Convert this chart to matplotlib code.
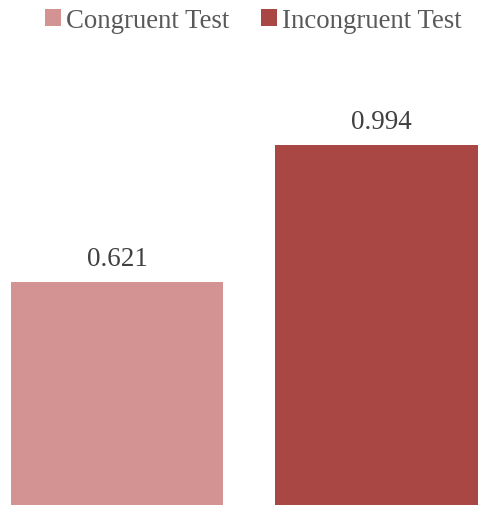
import matplotlib
matplotlib.use("Agg")
import matplotlib.pyplot as plt
from matplotlib.patches import Patch

categories = ["Congruent Test", "Incongruent Test"]
values = [0.621, 0.994]
labels = ["0.621", "0.994"]
colors = ["#D39392", "#A94745"]

plt.rcParams['font.family'] = ['Liberation Serif', 'DejaVu Serif']

fig = plt.figure(figsize=(4.78, 5.06), dpi=100)
ax = fig.add_axes([0, 0, 1, 1])
x = [0, 1]
ax.bar(x, values, width=0.803, color=colors)
for xi, v, lab in zip(x, values, labels):
    ax.annotate(lab, (xi, v), xytext=(0, 8), textcoords='offset points',
                ha='center', va='bottom', fontsize=19.5, color='#404040')
ax.set_xlim(-0.443, 1.367)
ax.set_ylim(0.0136, 1.392)
ax.axis('off')

handles = [Patch(facecolor=c, label=l) for c, l in zip(colors, categories)]
leg = fig.legend(handles=handles, loc='upper center', bbox_to_anchor=(0.53, 1.03), ncol=2,
                 frameon=False, fontsize=19.3, handlelength=0.6, handleheight=0.6,
                 handletextpad=0.2, columnspacing=1.15, labelcolor='#595959')
fig.savefig("out.png", dpi=100)
